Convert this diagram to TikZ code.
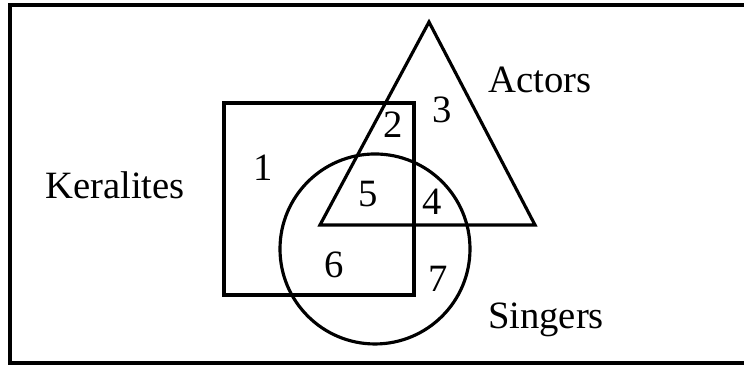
\documentclass[tikz,border=0pt]{standalone}
\usepackage{fontspec}
\setmainfont{Liberation Serif}
\usetikzlibrary{positioning,calc}

\begin{document}
\begin{tikzpicture}[font=\fontsize{11}{13}\selectfont,
 outline/.style={line width=.9pt},
 setname/.style={anchor=base},
 regnum/.style={anchor=base}]
\useasboundingbox (0,0) rectangle (7.44,3.68);
% frame (open on the right, as scanned)
\draw[line width=1.2pt] (7.44,3.63)--(.10,3.63)--(.10,.05)--(7.44,.05);
% the three sets
\draw[outline] (2.24,2.65) rectangle (4.14,.73);
\draw[outline] (4.29,3.46)--(3.20,1.43)--(5.35,1.43)--cycle;
\draw[outline] (3.75,1.19) circle (.95);
\node[setname] (keralites) at (1.15,1.69) {Keralites};
\node[setname] (actors) at (5.40,2.75) {Actors};
\node[setname] (singers) at (5.46,.39) {Singers};
% region numbers
\foreach \x/\y/\n in {2.63/1.87/1,3.93/2.30/2,4.42/2.45/3,4.32/1.53/4,3.68/1.61/5,3.34/.90/6,4.38/.76/7}{
 \node[regnum] (r\n) at (\x,\y) {\n};
}
\end{tikzpicture}
\end{document}
